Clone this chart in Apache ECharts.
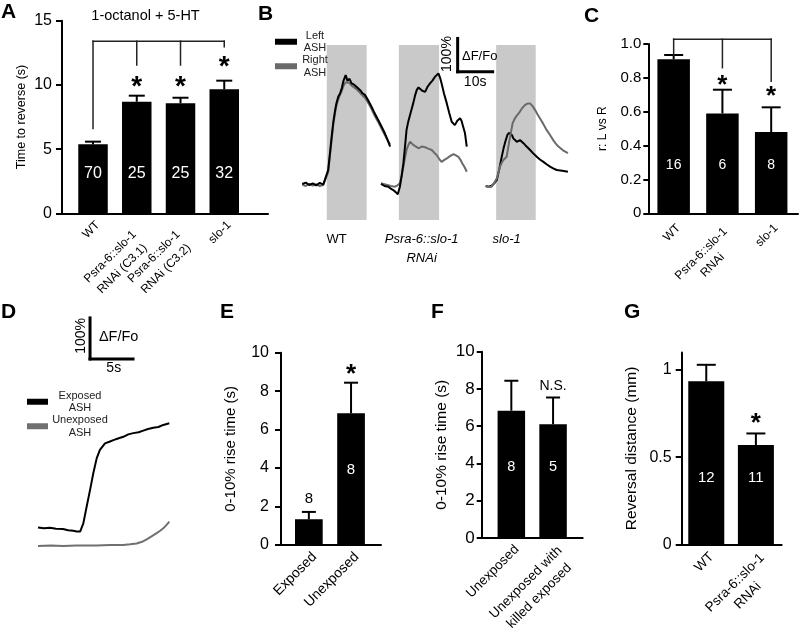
<!DOCTYPE html>
<html><head><meta charset="utf-8">
<script src="https://cdn.jsdelivr.net/npm/echarts@6/dist/echarts.min.js"></script>
<style>html,body{margin:0;padding:0;background:#fff}#c{width:800px;height:637px}</style>
</head><body><div id="c"></div>
<script>
// ================= DATA =================
// Panel A
const catsA = ['WT','Psra-6::slo-1\nRNAi (C3.1)','Psra-6::slo-1\nRNAi (C3.2)','slo-1'];
const meanA = [5.37, 8.69, 8.57, 9.66];
const semA  = [0.21, 0.47, 0.43, 0.67];
const nA    = ['70','25','25','32'];
const titleA = '1-octanol + 5-HT';
const yNameA = 'Time to reverse (s)';
// Panel B (time s, dF/F %)
const bLabels = ['WT','Psra-6::slo-1\nRNAi','slo-1'];
const stimB = [[10.5,21.9],[31.1,42.6],[58.9,70.2]];
const leftWT = [[3.5,106],[4.5,110],[5.5,103],[6.5,108],[7.5,102],[8.5,109],[9.5,104],[10.0,106],[10.9,147],[11.4,195],[11.9,245],[12.4,290],[12.9,324],[13.3,345],[13.8,363],[14.3,372],[14.8,388],[15.3,410],[15.9,426],[16.4,410],[17.0,415],[17.6,402],[18.3,398],[19.0,392],[19.5,387],[20.2,380],[20.8,372],[21.4,368],[22.0,358],[22.7,345],[23.3,333],[24.0,318],[24.6,306],[25.2,294],[25.9,280],[26.5,268],[27.1,255],[27.8,238],[28.6,216]];
const rightWT = [[3.5,104],[4.5,100],[5.5,106],[6.5,101],[7.5,105],[8.5,100],[9.5,103],[10.0,102],[10.9,140],[11.4,188],[11.9,236],[12.4,283],[12.9,316],[13.3,338],[13.8,355],[14.3,368],[14.8,380],[15.3,395],[15.9,405],[16.4,400],[17.0,403],[17.6,395],[18.3,390],[19.0,385],[19.5,380],[20.2,372],[20.8,365],[21.4,360],[22.0,350],[22.7,338],[23.3,326],[24.0,311],[24.6,299],[25.2,288],[25.9,274],[26.5,262],[27.1,250],[27.8,236],[28.6,222]];
const leftRNAi = [[26.0,106],[27.0,100],[28.1,98],[28.8,92],[29.5,88],[30.2,82],[30.8,76],[31.4,98],[31.9,130],[32.4,167],[32.9,220],[33.3,265],[33.8,290],[34.3,309],[34.8,328],[35.2,343],[35.7,365],[36.2,382],[36.7,390],[37.1,387],[37.8,380],[38.6,377],[39.3,392],[40.0,402],[40.7,410],[41.4,421],[41.9,425],[42.4,431],[42.9,418],[43.3,402],[44.0,372],[44.8,343],[45.5,315],[46.2,289],[47.1,279],[47.8,292],[48.6,299],[49.0,292],[49.5,289],[50.0,255],[50.5,216]];
const rightRNAi = [[26.0,108],[27.5,104],[28.8,100],[30.0,98],[30.7,102],[31.4,108],[31.9,130],[32.4,157],[32.9,185],[33.3,206],[33.8,220],[34.3,230],[34.8,226],[35.2,221],[36.0,216],[36.7,211],[37.6,216],[38.6,214],[39.5,210],[40.5,206],[41.2,198],[41.9,191],[42.6,180],[43.3,171],[44.0,176],[44.8,181],[45.7,188],[46.7,194],[47.4,190],[48.1,186],[48.7,177],[49.2,167],[49.9,155],[50.5,142]];
const leftSlo = [[55.9,100],[56.8,98],[57.6,101],[58.4,108],[59.1,118],[59.8,150],[60.5,186],[61.0,210],[61.4,226],[62.1,250],[62.5,256],[62.9,260],[63.4,250],[63.8,240],[64.3,236],[64.8,230],[65.2,235],[65.7,235],[66.2,230],[66.7,226],[67.6,216],[68.6,206],[69.5,196],[70.5,186],[71.4,178],[72.4,171],[73.3,164],[74.3,157],[75.2,152],[76.2,147],[77.8,145],[79.4,142]];
const rightSlo = [[55.9,100],[56.8,97],[57.6,98],[58.4,110],[59.1,123],[60.0,157],[60.9,176],[61.9,186],[62.3,210],[62.7,235],[63.2,262],[63.6,284],[64.1,296],[64.6,304],[65.2,312],[65.7,319],[66.4,330],[67.1,338],[67.8,342],[68.6,343],[69.3,335],[70.0,324],[70.7,311],[71.4,299],[72.4,282],[73.3,265],[74.3,250],[75.2,235],[76.0,224],[76.7,216],[78.0,205],[79.4,197]];
// Panel C
const catsC = ['WT','Psra-6::slo-1\nRNAi','slo-1'];
const meanC = [0.91, 0.59, 0.48];
const semC  = [0.025, 0.14, 0.146];
const nC    = ['16','6','8'];
// Panel D
const exposedD = [[0,47],[0.7,45],[1.4,46],[2.1,44],[2.9,43],[3.5,40],[4.1,39],[4.5,37],[4.9,37],[5.27,57],[5.66,98],[6.05,138],[6.43,179],[6.83,216],[7.2,236],[7.79,252],[8.3,256],[8.76,260],[9.3,264],[9.92,268],[10.5,274],[11.08,277],[11.7,279],[12.24,283],[12.8,287],[13.4,290],[14.0,292],[14.57,297],[15.27,301]];
const unexposedD = [[0,2],[1.5,3],[2.94,2],[4.5,3],[6.83,3],[8.4,4],[9.92,4],[10.7,6],[11.47,8],[12.1,12],[12.64,18],[13.2,25],[13.8,33],[14.2,39],[14.57,45],[14.9,52],[15.27,61]];
// Panel E
const catsE = ['Exposed','Unexposed'];
const meanE = [1.34, 6.85];
const semE  = [0.38, 1.59];
const nE    = ['8','8'];
// Panel F
const catsF = ['Unexposed','Unexposed with\nkilled exposed'];
const meanF = [6.83, 6.1];
const semF  = [1.61, 1.44];
const nF    = ['8','5'];
// Panel G
const catsG = ['WT','Psra-6::slo-1\nRNAi'];
const meanG = [0.935, 0.57];
const semG  = [0.095, 0.066];
const nG    = ['12','11'];
const yTicksG = [0, 0.5, 1];

// ================= BUILD =================
const FONT = 'Liberation Sans, Arial, Helvetica, sans-serif';
const grids=[], xAxes=[], yAxes=[], series=[];
function addGrid(box, xa, ya){
  const i = grids.length;
  grids.push(Object.assign({containLabel:false, show:false}, box));
  xa.gridIndex=i; ya.gridIndex=i; xAxes.push(xa); yAxes.push(ya); return i;
}
function textSeries(gi, items){
  return {type:'custom', xAxisIndex:gi, yAxisIndex:gi, silent:true, z:6, clip:false, animation:false,
    data: items.map(d=>[d.x,d.y]),
    renderItem:(p,api)=>{ const d=items[p.dataIndex]; const pt=api.coord([d.x,d.y]);
      return {type:'text', x:pt[0], y:pt[1]+(d.dy||0), rotation:d.rot||0,
        style:{text:d.text, fill:d.color||'#000', fontSize:d.size, fontFamily:FONT,
          fontWeight:d.weight||'normal', fontStyle:d.style||'normal', align:'center', verticalAlign:'middle'}};
    }};
}
function segSeries(gi, segs, width, color){
  return {type:'custom', xAxisIndex:gi, yAxisIndex:gi, silent:true, z:5, clip:false, animation:false,
    data: segs.map(s=>[s[0],s[1]]),
    renderItem:(p,api)=>{ const s=segs[p.dataIndex]; const a=api.coord([s[0],s[1]]), b=api.coord([s[2],s[3]]);
      return {type:'line', shape:{x1:a[0],y1:a[1],x2:b[0],y2:b[1]}, style:{stroke:color||'#000', lineWidth:width, lineCap:'square'}};
    }};
}
function catFormatter(cats){
  return v => { const c = cats[Math.round(v)]; if (c===undefined) return '';
    if (c.indexOf('\n')<0) return '{s|'+c+'}'; return c.split('\n').map(s=>'{c|'+s+'}').join('\n'); };
}
function barPanel(c){
  const yAx = {type:'value', min:0, max:c.ymax, interval:c.interval,
     axisLine:{show:true, onZero:false, lineStyle:{color:'#000', width:2}},
     axisTick:{show:true, length:c.tick||6, lineStyle:{color:'#000', width:2}},
     splitLine:{show:false},
     axisLabel:{fontSize:c.yFont, color:'#000', fontFamily:FONT, margin:c.yMargin, formatter:c.yFmt},
     name:c.yName, nameLocation:'middle', nameGap:c.nameGap,
     nameTextStyle:{fontSize:c.nameSize, color:'#000', fontFamily:FONT}};
  if (c.yTicks){ yAx.axisTick.customValues=c.yTicks; yAx.axisLabel.customValues=c.yTicks; }
  const lh = c.xLH;
  const gi = addGrid({left:c.left, top:c.top, width:c.width, height:c.height},
    {type:'value', min:c.xmin, max:c.xmax,
     axisLine:{show:true, onZero:false, lineStyle:{color:'#000', width:2}},
     axisTick:{show:false}, splitLine:{show:false},
     axisLabel:{customValues:c.cats.map((_,i)=>i), rotate:45, fontSize:c.xFont, color:'#000', margin:c.xMargin,
       verticalAlign:'top', fontFamily:FONT, formatter:catFormatter(c.cats),
       rich:{c:{fontSize:c.xFont, lineHeight:lh, width:c.xW, align:'center', fontFamily:FONT, color:'#000', padding:[0,c.xPad||0,0,0]},
             s:{fontSize:c.xFont, lineHeight:c.xFont*1.15, fontFamily:FONT, color:'#000'}}}},
    yAx);
  series.push({type:'bar', xAxisIndex:gi, yAxisIndex:gi, barWidth:c.barWidth, silent:true, animation:false,
    itemStyle:{color:'#000'}, data:c.means.map((v,i)=>[i,v]), z:2});
  const cap=c.cap;
  series.push({type:'custom', xAxisIndex:gi, yAxisIndex:gi, silent:true, z:3, clip:false, animation:false,
    data:c.means.map((v,i)=>[i, v, v+c.sems[i]]),
    renderItem:(p,api)=>{ const a=api.coord([api.value(0),api.value(1)]), b=api.coord([api.value(0),api.value(2)]);
      return {type:'group', children:[
        {type:'line', shape:{x1:a[0],y1:a[1],x2:b[0],y2:b[1]}, style:{stroke:'#000', lineWidth:2}},
        {type:'line', shape:{x1:b[0]-cap/2,y1:b[1],x2:b[0]+cap/2,y2:b[1]}, style:{stroke:'#000', lineWidth:2}}]};
    }});
  const texts = c.ns.map((n,i)=>({x:i, y:c.countY[i], text:n, size:c.countSize, color:(c.countColor&&c.countColor[i])||'#fff'}));
  (c.marks||[]).forEach(m=>texts.push(Object.assign({size:26, weight:'bold', dy:m.text==='*'?7:0}, m)));
  series.push(textSeries(gi, texts));
  if (c.bracket) series.push(segSeries(gi, c.bracket, 1.5, '#222'));
  return gi;
}

// ---- A ----
barPanel({left:62, top:20.7, width:206, height:192.6, xmin:-0.709, xmax:4.0, ymax:15, interval:5,
  cats:catsA, means:meanA, sems:semA, ns:nA, countY:[3.08,3.08,3.08,3.08], countSize:16,
  barWidth:29.5, cap:16, yFont:16, yMargin:10, tick:6, yName:yNameA, nameGap:34, nameSize:12.5,
  xFont:12, xW:68, xLH:17, xPad:12, xMargin:5,
  marks:[{x:1,y:10.38,text:'*',size:28},{x:2,y:10.38,text:'*',size:28},{x:3,y:11.94,text:'*',size:28},
         {x:1.2,y:15.35,text:titleA,size:14.5,weight:'normal'}],
  bracket:[[0,13.4,3,13.4],[0,13.4,0,6.6],[1,13.4,1,11.55],[2,13.4,2,11.55],[3,13.4,3,12.97]]});

// ---- C ----
barPanel({left:648.3, top:44, width:149.7, height:169.3, xmin:-0.52, xmax:2.55, ymax:1, interval:0.2,
  cats:catsC, means:meanC, sems:semC, ns:nC, countY:[0.285,0.285,0.285], countSize:14,
  barWidth:32.5, cap:19, yFont:15, yMargin:7, tick:5, yName:'r: L vs R', nameGap:40, nameSize:12,
  yFmt:v=>v===0?'0':v.toFixed(1), xFont:12, xW:68, xLH:16, xPad:4, xMargin:8,
  marks:[{x:1,y:0.797,text:'*'},{x:2,y:0.73,text:'*'}],
  bracket:[[0,1.028,2,1.028],[0,1.028,0,0.935],[1,1.028,1,0.86],[2,1.028,2,0.78]]});

// ---- E ----
barPanel({left:281, top:352.7, width:100, height:192.3, xmin:-0.66, xmax:1.71, ymax:10, interval:2,
  cats:catsE, means:meanE, sems:semE, ns:nE, countY:[2.41,3.9], countColor:['#000','#fff'], countSize:15,
  barWidth:27.7, cap:14, yFont:16, yMargin:12, tick:6, yName:'0-10% rise time (s)', nameGap:43, nameSize:15,
  xFont:14, xW:72, xLH:18, xMargin:4,
  marks:[{x:1,y:9.2,text:'*'}]});

// ---- F ----
barPanel({left:481.7, top:351.7, width:101, height:192.3, xmin:-0.71, xmax:1.71, ymax:10, interval:2,
  cats:catsF, means:meanF, sems:semF, ns:nF, countY:[3.81,3.81], countSize:14.5,
  barWidth:27.5, cap:14, yFont:17, yMargin:7, tick:5, yName:'0-10% rise time (s)', nameGap:32, nameSize:15.5,
  xFont:13.5, xW:96, xLH:19, xMargin:4,
  marks:[{x:1,y:8.15,text:'N.S.',size:14,weight:'normal'}]});

// ---- G ----
barPanel({left:681.7, top:352.6, width:100, height:191.7, xmin:-0.495, xmax:1.52, ymax:1.1, interval:0.5, yTicks:yTicksG,
  cats:catsG, means:meanG, sems:semG, ns:nG, countY:[0.379,0.379], countSize:15,
  barWidth:36, cap:19, yFont:16, yMargin:10, tick:6, yName:'Reversal distance (mm)', nameGap:42, nameSize:15.5,
  yFmt:v=>String(v), xFont:13.5, xW:77, xLH:18, xMargin:5,
  marks:[{x:1,y:0.73,text:'*'}]});

// ---- B ----
const labPosB = [13.3, 37.6, 61.9];
const gB = addGrid({left:290, top:16, width:280, height:204},
  {type:'value', min:0, max:80, axisLine:{show:false}, axisTick:{show:false}, splitLine:{show:false},
   axisLabel:{customValues:labPosB, margin:10, fontSize:13, color:'#000', fontFamily:FONT,
     formatter:v=>{ const i=labPosB.indexOf(v); const s=bLabels[i]; if(i===0) return '{n|'+s+'}';
       return s.split('\n').map(x=>'{i|'+x+'}').join('\n'); },
     rich:{n:{fontSize:13, lineHeight:19, fontFamily:FONT, color:'#000'},
           i:{fontSize:13, lineHeight:19, fontFamily:FONT, fontStyle:'italic', color:'#000'}}}},
  {type:'value', min:0, max:600, show:false, splitLine:{show:false}});
series.push({type:'custom', xAxisIndex:gB, yAxisIndex:gB, silent:true, z:1, animation:false,
  data:stimB.map(s=>[s[0],s[1]]),
  renderItem:(p,api)=>{ const a=api.coord([api.value(0),0]), b=api.coord([api.value(1),515]);
    return {type:'rect', shape:{x:a[0], y:b[1], width:b[0]-a[0], height:a[1]-b[1]}, style:{fill:'#c9c9c9'}}; }});
const GRAY='#6a6a6a';
function trace(gi,name,data,color,z){ return {type:'line', name, xAxisIndex:gi, yAxisIndex:gi, data, symbol:'none',
  showSymbol:false, lineStyle:{color, width:2}, itemStyle:{color}, z, silent:true, animation:false}; }
series.push(trace(gB,'Right ASH',rightWT,GRAY,3), trace(gB,'Left ASH',leftWT,'#000',4),
            trace(gB,'Right ASH',rightRNAi,GRAY,3), trace(gB,'Left ASH',leftRNAi,'#000',4),
            trace(gB,'Left ASH',leftSlo,'#000',3), trace(gB,'Right ASH',rightSlo,GRAY,4));
series.push(segSeries(gB, [[47.9,534,47.9,436],[47.9,436,57.9,436]], 3, '#000'));
series.push(textSeries(gB, [{x:45,y:488,text:'100%',size:14,rot:Math.PI/2},{x:54.2,y:480,text:'\u0394F/Fo',size:13},
  {x:52.9,y:404,text:'10s',size:14}]));

// ---- D ----
const gD = addGrid({left:38, top:300.7, width:137.6, height:266.5},
  {type:'value', min:0, max:16, show:false, splitLine:{show:false}},
  {type:'value', min:-50, max:600, show:false, splitLine:{show:false}});
series.push(trace(gD,'Unexposed ASH',unexposedD,'#707070',3), trace(gD,'Exposed ASH',exposedD,'#000',4));
series.push(segSeries(gD, [[6.05,558,6.05,458],[6.05,458,11.05,458]], 3, '#000'));
series.push(textSeries(gD, [{x:5.0,y:514,text:'100%',size:14,rot:Math.PI/2},{x:9.38,y:512,text:'\u0394F/Fo',size:14.5},
  {x:8.81,y:435,text:'5s',size:14}]));

// ---- titles (panel letters) ----
const letters = [['A',1,2],['B',258,4],['C',584,6],['D',1,302],['E',220,302],['F',431,302],['G',624,302]];
const titles = letters.map(l=>({text:l[0], left:l[1], top:l[2], padding:0,
  textStyle:{fontSize:21, fontWeight:'bold', color:'#000', fontFamily:FONT}}));

const legendText = (w)=>({rich:{t:{fontSize:11, lineHeight:12.5, width:w, align:'center', fontFamily:FONT, color:'#222'}}});
const chart = echarts.init(document.getElementById('c'), null, {renderer:'canvas'});
chart.setOption({
  animation:false, backgroundColor:'#fff',
  title:titles, grid:grids, xAxis:xAxes, yAxis:yAxes, series,
  legend:[
    {data:['Left ASH','Right ASH'], orient:'vertical', left:275, top:30, itemWidth:22, itemHeight:6, itemGap:1,
     icon:'rect', selectedMode:false, padding:0, itemStyle:{borderWidth:0}, lineStyle:{width:0},
     formatter:n=>n.split(' ').map(s=>'{t|'+s+'}').join('\n'), textStyle:legendText(26)},
    {data:['Exposed ASH','Unexposed ASH'], orient:'vertical', left:27, top:390, itemWidth:21, itemHeight:6, itemGap:1,
     icon:'rect', selectedMode:false, padding:0, itemStyle:{borderWidth:0}, lineStyle:{width:0},
     formatter:n=>n.split(' ').map(s=>'{t|'+s+'}').join('\n'), textStyle:legendText(54)}
  ]
});
</script></body></html>
